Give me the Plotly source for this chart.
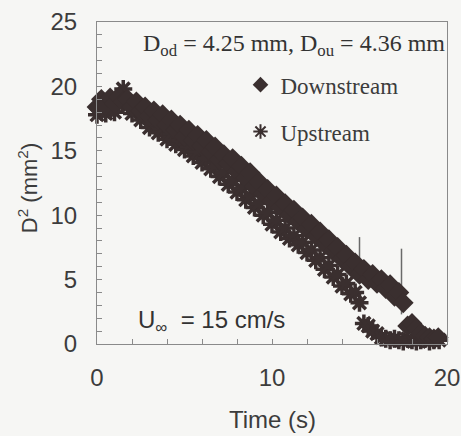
import plotly.graph_objects as go

# ---------------- data ----------------
time_down = [0.00, 0.25, 0.50, 0.75, 1.00, 1.25, 1.50, 1.75, 2.00, 2.25, 2.50, 2.75,
             3.00, 3.25, 3.50, 3.75, 4.00, 4.25, 4.50, 4.75, 5.00, 5.25, 5.50, 5.75,
             6.00, 6.25, 6.50, 6.75, 7.00, 7.25, 7.50, 7.75, 8.00, 8.25, 8.50, 8.75,
             9.00, 9.25, 9.50, 9.75, 10.00, 10.25, 10.50, 10.75, 11.00, 11.25, 11.50, 11.75,
             12.00, 12.25, 12.50, 12.75, 13.00, 13.25, 13.50, 13.75, 14.00, 14.25, 14.50, 14.75,
             15.00, 15.25, 15.50, 15.75, 16.00, 16.25, 16.50, 16.75, 17.00, 17.25, 17.50,
             17.75, 18.00, 18.25, 18.50, 18.75, 19.00, 19.25, 19.50]
d2_down = [18.4, 19.0, 18.5, 19.1, 18.7, 19.2, 18.8, 19.0, 18.4, 18.8, 18.1, 18.4,
           17.7, 18.1, 17.4, 17.8, 17.0, 17.4, 16.6, 17.0, 16.1, 16.6, 15.8, 16.2,
           15.4, 15.8, 14.9, 15.3, 14.3, 14.7, 14.0, 14.4, 13.4, 13.8, 12.9, 13.3,
           12.2, 12.6, 11.7, 12.0, 11.1, 11.5, 10.6, 10.9, 10.0, 10.4, 9.5, 9.8,
           8.9, 9.3, 8.4, 8.7, 7.8, 8.1, 7.2, 7.5, 6.6, 6.9, 6.0, 6.3,
           5.4, 5.8, 5.0, 5.4, 4.7, 5.0, 4.3, 4.6, 3.7, 4.0, 3.2,
           1.4, 1.6, 1.2, 0.8, 0.6, 0.5, 0.4, 0.5]

time_up = [0.00, 0.25, 0.50, 0.75, 1.00, 1.25, 1.50, 1.75, 2.00, 2.25, 2.50, 2.75,
           3.00, 3.25, 3.50, 3.75, 4.00, 4.25, 4.50, 4.75, 5.00, 5.25, 5.50, 5.75,
           6.00, 6.25, 6.50, 6.75, 7.00, 7.25, 7.50, 7.75, 8.00, 8.25, 8.50, 8.75,
           9.00, 9.25, 9.50, 9.75, 10.00, 10.25, 10.50, 10.75, 11.00, 11.25, 11.50, 11.75,
           12.00, 12.25, 12.50, 12.75, 13.00, 13.25, 13.50, 13.75, 14.00, 14.25, 14.50, 14.75,
           15.00, 15.25, 15.50, 15.75, 16.00, 16.25, 16.50, 16.75, 17.00, 17.25, 17.50,
           17.75, 18.00, 18.25, 18.50, 18.75, 19.00, 19.25, 19.55]
d2_up = [17.8, 18.3, 17.9, 18.4, 18.0, 18.6, 19.8, 18.5, 17.9, 18.2, 17.4, 17.7,
         16.8, 17.1, 16.4, 16.7, 15.9, 16.3, 15.5, 15.8, 15.1, 15.3, 14.6, 14.9,
         14.1, 14.4, 13.6, 13.8, 13.0, 13.3, 12.4, 12.7, 11.8, 12.1, 11.2, 11.5,
         10.6, 10.9, 10.0, 10.2, 9.3, 9.6, 8.7, 9.0, 8.2, 8.4, 7.7, 7.9,
         7.1, 7.3, 6.5, 6.7, 5.8, 6.1, 5.2, 5.4, 4.5, 4.7, 3.9, 4.0,
         3.2, 1.6, 1.4, 1.0, 0.8, 0.5, 0.4, 0.3, 0.4, 0.3, 0.2,
         0.4, 0.3, 0.2, 0.3, 0.4, 0.2, 0.3, 0.3]

# thin vertical marker lines (time, top, bottom)
vline_t = [15.0, 17.4]
vline_top = [8.3, 7.4]
vline_bottom = [5.5, 2.3]

x_ticks = [0, 10, 20]
y_ticks = [0, 5, 10, 15, 20, 25]

# ---------------- styling ----------------
INK = "#3a2f2f"
AXIS = "#8a8a8a"
TXT = "#3c3c3c"
BG = "#f6f6f4"
SANS = "Liberation Sans, Arial, sans-serif"
SERIF = "Liberation Serif, Times New Roman, serif"

fig = go.Figure()

vx, vy = [], []
for t, a, b in zip(vline_t, vline_top, vline_bottom):
    vx += [t, t, None]
    vy += [a, b, None]
fig.add_trace(go.Scatter(x=vx, y=vy, mode="lines", line=dict(color="#6a6a6a", width=1.5),
                         showlegend=False, hoverinfo="skip"))

fig.add_trace(go.Scatter(x=time_up, y=d2_up, mode="markers", name="Upstream",
                         legendgroup="u", legendrank=2, cliponaxis=False,
                         marker=dict(symbol="asterisk-open", size=15, color=INK,
                                     line=dict(width=3.5, color=INK))))
fig.add_trace(go.Scatter(x=time_down, y=d2_down, mode="markers", name="Downstream",
                         legendgroup="d", legendrank=1, cliponaxis=False,
                         marker=dict(symbol="diamond", size=16, color=INK,
                                     line=dict(width=0))))

fig.update_layout(
    width=461, height=436,
    margin=dict(l=97, r=14, t=22, b=92),
    paper_bgcolor=BG, plot_bgcolor=BG,
    showlegend=True,
    legend=dict(x=0.41, y=0.872, xanchor="left", yanchor="top",
                bgcolor="rgba(0,0,0,0)", font=dict(family=SERIF, size=23, color=TXT),
                tracegroupgap=14, traceorder="grouped", itemwidth=30,
                itemsizing="constant"),
    xaxis=dict(range=[0, 20], tickvals=x_ticks, ticks="inside", ticklen=5,
               tickcolor=AXIS, showline=True, linecolor=AXIS, linewidth=1, mirror=True,
               showgrid=False, zeroline=False, automargin=False,
               minor=dict(dtick=2, ticks="inside", ticklen=5, tickcolor=AXIS),
               tickfont=dict(family=SANS, size=24, color=TXT), ticklabelstandoff=12),
    yaxis=dict(range=[0, 25], tickvals=y_ticks, ticks="inside", ticklen=5,
               tickcolor=AXIS, showline=True, linecolor=AXIS, linewidth=1, mirror=True,
               showgrid=False, zeroline=False, automargin=False,
               minor=dict(dtick=1, ticks="inside", ticklen=5, tickcolor=AXIS),
               tickfont=dict(family=SANS, size=24, color=TXT), ticklabelstandoff=14),
    annotations=[
        dict(text="Time (s)", xref="paper", yref="paper", x=0.5, y=-0.236,
             xanchor="center", yanchor="middle", showarrow=False,
             font=dict(family=SANS, size=24, color=TXT)),
        dict(text="D<sup>2</sup> (mm<sup>2</sup>)", xref="paper", yref="paper",
             x=-0.197, y=0.484, textangle=-90, xanchor="center", yanchor="middle",
             showarrow=False, font=dict(family=SANS, size=22, color=TXT)),
        dict(text="D<sub>od</sub> = 4.25 mm, D<sub>ou</sub> = 4.36 mm", xref="paper",
             yref="paper", x=0.125, y=0.929, xanchor="left", yanchor="middle",
             showarrow=False, font=dict(family=SERIF, size=24, color="#333333")),
        dict(text="U<sub>∞</sub>  = 15 cm/s", xref="paper", yref="paper",
             x=0.112, y=0.071, xanchor="left", yanchor="middle", showarrow=False,
             font=dict(family=SANS, size=24, color="#333333")),
    ],
)

fig.write_html("out.html", config={"displayModeBar": False},
               post_script="document.body.style.margin='0px';")
